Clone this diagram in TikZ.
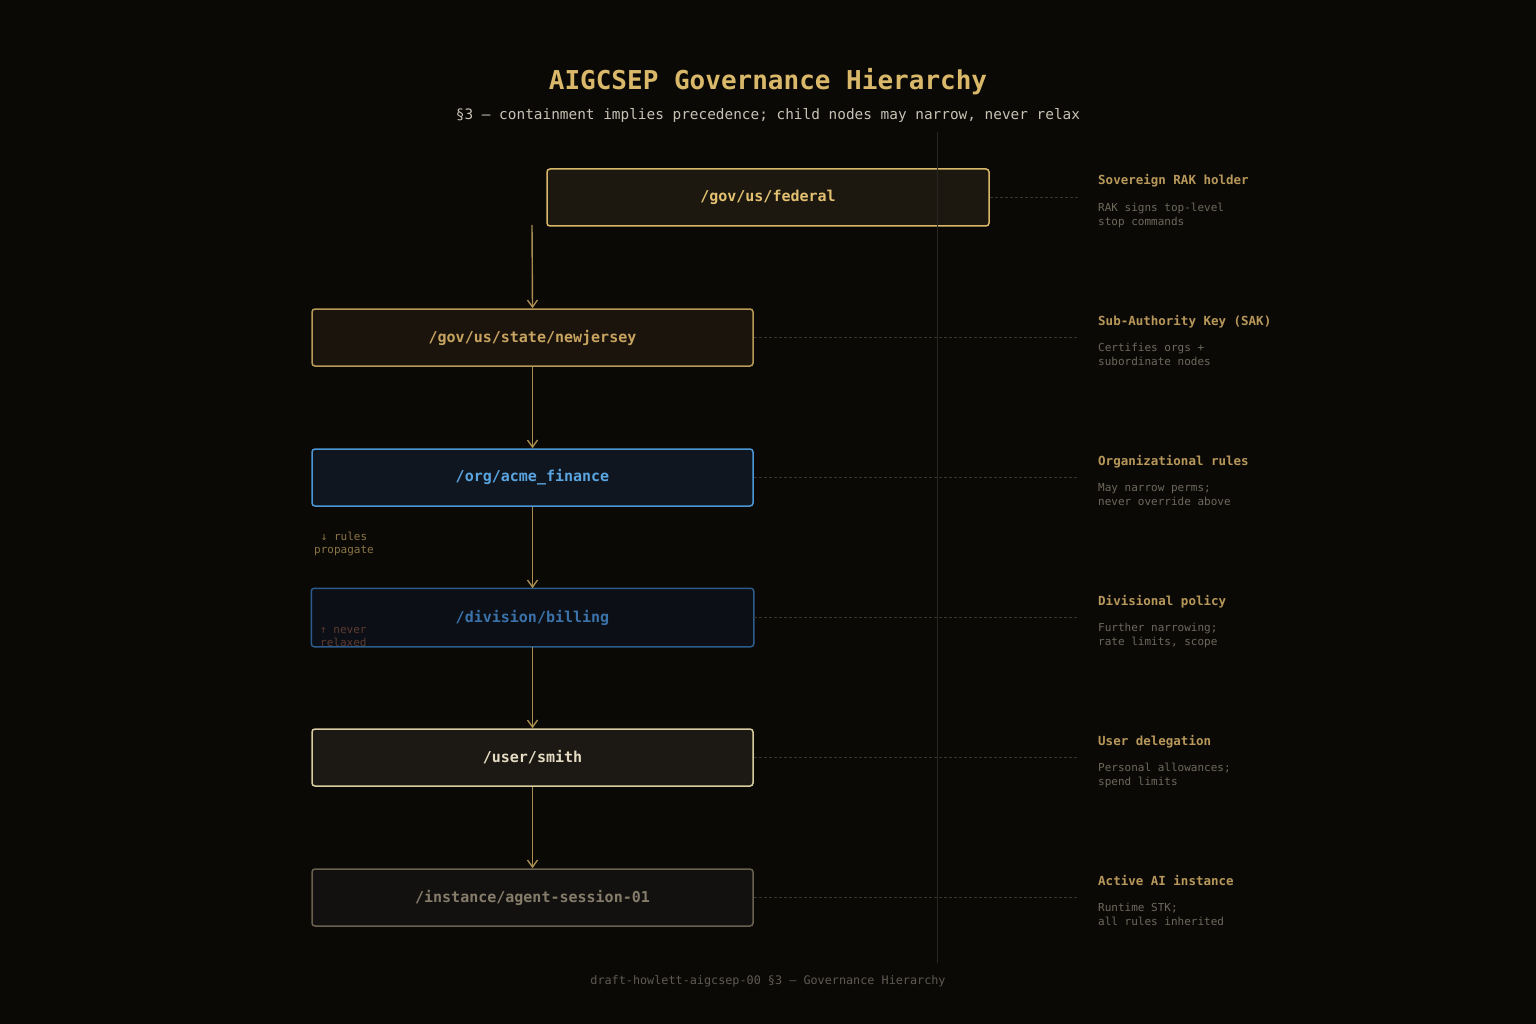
\documentclass[tikz,border=0pt]{standalone}
\usepackage{fontspec}
\setmainfont{DejaVu Sans Mono}
\usetikzlibrary{arrows.meta}
\definecolor{bg}{HTML}{0A0906}
\definecolor{titlec}{HTML}{D9B86A}
\definecolor{subc}{HTML}{C8C2B4}
\definecolor{footc}{HTML}{5E5A52}
\definecolor{vlinec}{HTML}{2A2722}
\definecolor{dashc}{HTML}{3A352C}
\definecolor{arrowc}{HTML}{A88C50}
\definecolor{ltitle}{HTML}{B8985A}
\definecolor{ldesc}{HTML}{6E685C}
\definecolor{noteA}{HTML}{8A7444}
\definecolor{noteB}{HTML}{5E3A30}
\definecolor{fedF}{HTML}{1C1810}\definecolor{fedD}{HTML}{D8B868}\definecolor{fedT}{HTML}{E2C070}
\definecolor{njF}{HTML}{1A140C}\definecolor{njD}{HTML}{B89A58}\definecolor{njT}{HTML}{C8A460}
\definecolor{acF}{HTML}{0F1620}\definecolor{acD}{HTML}{4D96D6}\definecolor{acT}{HTML}{5AA4E0}
\definecolor{dvF}{HTML}{0C1016}\definecolor{dvD}{HTML}{2C5C8C}\definecolor{dvT}{HTML}{3A72AA}
\definecolor{usF}{HTML}{1C1914}\definecolor{usD}{HTML}{D8CCA0}\definecolor{usT}{HTML}{E6DCC4}
\definecolor{inF}{HTML}{121110}\definecolor{inD}{HTML}{6A6050}\definecolor{inT}{HTML}{867C6A}
\tikzset{
  hbox/.style={rectangle, rounded corners=3pt, line width=1.5pt, minimum width=441pt, minimum height=57pt, inner sep=0pt, font=\fontsize{15}{18}\selectfont\bfseries},
  flow/.style={draw=arrowc, line width=1.4pt, -{Straight Barb[length=7pt,width=10pt,line width=1.4pt]}},
  guide/.style={draw=dashc, line width=0.8pt, dash pattern=on 3pt off 2pt},
  ltit/.style={anchor=base west, inner sep=0pt, text=ltitle, font=\fontsize{12.5}{15}\selectfont\bfseries},
  ldsc/.style={anchor=base west, inner sep=0pt, text=ldesc, font=\fontsize{11}{14}\selectfont},
}
\begin{document}
\begin{tikzpicture}[x=1pt,y=-1pt]
\fill[bg] (0,0) rectangle (1536,1024);
\useasboundingbox (0,0) rectangle (1536,1024);

\node[anchor=base, inner sep=0pt, text=titlec, font=\fontsize{26}{30}\selectfont\bfseries] (title) at (768,90) {AIGCSEP Governance Hierarchy};
\node[anchor=base, inner sep=0pt, text=subc, font=\fontsize{14.4}{17}\selectfont] (sub) at (768,119.5) {§3 — containment implies precedence; child nodes may narrow, never relax};

\node[hbox, minimum width=442pt, fill=fedF, draw=fedD, text=fedT] (fed) at (768,197.5) {/gov/us/federal};
\node[hbox, fill=njF, draw=njD, text=njT] (nj) at (532.5,337.5) {/gov/us/state/newjersey};
\node[hbox, fill=acF, draw=acD, text=acT] (acme) at (532.5,477.5) {/org/acme\_finance};
\node[hbox, fill=dvF, text=dvT] (div) at (532.5,617.5) {/division/billing};
\node[hbox, fill=usF, draw=usD, text=usT] (user) at (532.5,757.5) {/user/smith};
\node[hbox, fill=inF, draw=inD, text=inT] (inst) at (532.5,897.5) {/instance/agent-session-01};

% never relaxed note, clipped by the division box
\begin{scope}
\clip (div.south west) rectangle (div.north east);
\node[anchor=base west, inner sep=0pt, text=noteB, font=\fontsize{11}{14}\selectfont] (nev1) at (320,633) {↑ never};
\node[anchor=base west, inner sep=0pt, text=noteB, font=\fontsize{11}{14}\selectfont] (nev2) at (320,646) {relaxed};
\end{scope}
\draw[dvD, line width=1.5pt, rounded corners=3pt] (div.south west) rectangle (div.north east);

\node[anchor=base, inner sep=0pt, text=noteA, font=\fontsize{11}{14}\selectfont] (rul1) at (344,540) {↓ rules};
\node[anchor=base, inner sep=0pt, text=noteA, font=\fontsize{11}{14}\selectfont] (rul2) at (344,553) {propagate};

% vertical guide
\coordinate (vtop) at (937,132);
\coordinate (vbot) at (937,963);
\draw[vlinec, line width=1pt] (vtop) -- (vbot);

% arrows
\coordinate (fedout) at (532,225);
\draw[flow] (fedout) -- (nj.north);
\draw[flow] (nj.south) -- (acme.north);
\draw[flow] (acme.south) -- (div.north);
\draw[flow] (div.south) -- (user.north);
\draw[flow] (user.south) -- (inst.north);

% dashed guides
\foreach \n/\y in {fed/197.5, nj/337.5, acme/477.5, div/617.5, user/757.5, inst/897.5}{
  \coordinate (g\n) at (1078,\y);
  \draw[guide] (\n.east) -- (g\n);
}

% right labels
\node[ltit] (t1) at (1098,185) {Sovereign RAK holder};
\node[ldsc] (d1a) at (1098,211.5) {RAK signs top-level};
\node[ldsc] (d1b) at (1098,225.5) {stop commands};

\node[ltit] (t2) at (1098,325) {Sub-Authority Key (SAK)};
\node[ldsc] (d2a) at (1098,351.5) {Certifies orgs +};
\node[ldsc] (d2b) at (1098,365.5) {subordinate nodes};

\node[ltit] (t3) at (1098,465) {Organizational rules};
\node[ldsc] (d3a) at (1098,491.5) {May narrow perms;};
\node[ldsc] (d3b) at (1098,505.5) {never override above};

\node[ltit] (t4) at (1098,605) {Divisional policy};
\node[ldsc] (d4a) at (1098,631.5) {Further narrowing;};
\node[ldsc] (d4b) at (1098,645.5) {rate limits, scope};

\node[ltit] (t5) at (1098,745) {User delegation};
\node[ldsc] (d5a) at (1098,771.5) {Personal allowances;};
\node[ldsc] (d5b) at (1098,785.5) {spend limits};

\node[ltit] (t6) at (1098,885) {Active AI instance};
\node[ldsc] (d6a) at (1098,911.5) {Runtime STK;};
\node[ldsc] (d6b) at (1098,925.5) {all rules inherited};

\node[anchor=base, inner sep=0pt, text=footc, font=\fontsize{11.8}{14}\selectfont] (foot) at (768,984.5) {draft-howlett-aigcsep-00 §3 — Governance Hierarchy};
\end{tikzpicture}
\end{document}
